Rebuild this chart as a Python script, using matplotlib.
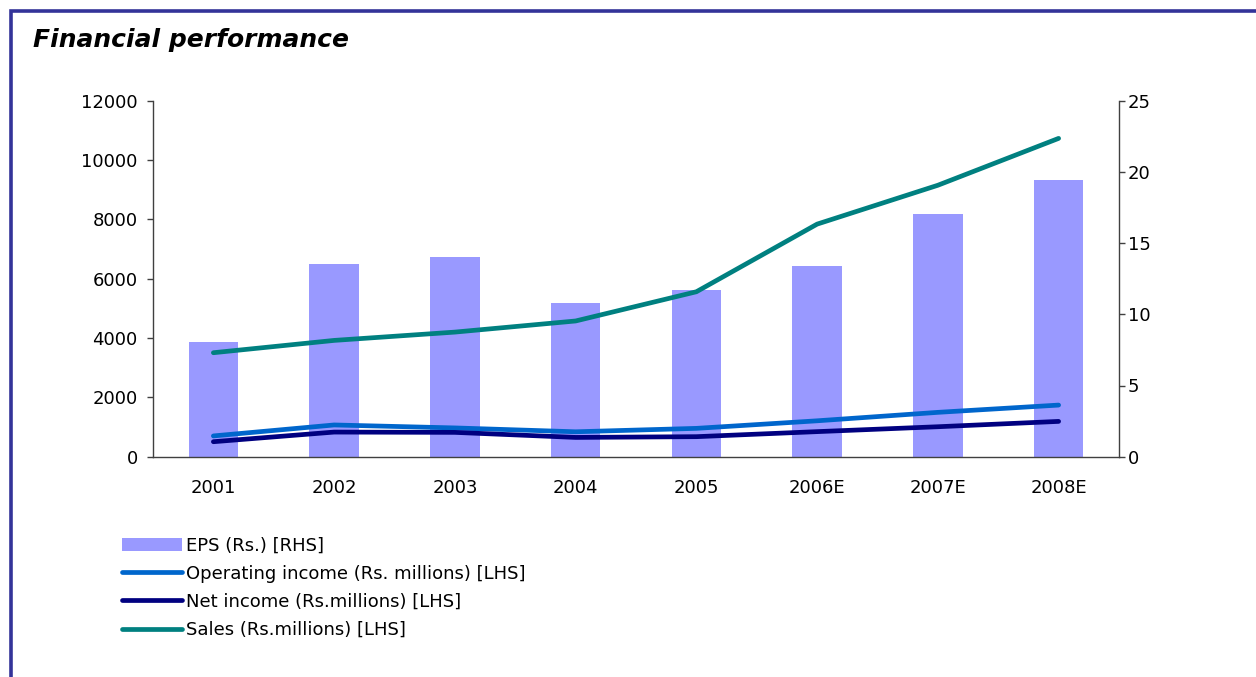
import matplotlib
matplotlib.use("Agg")
import matplotlib.pyplot as plt
from matplotlib.patches import Rectangle, Patch
from matplotlib.lines import Line2D
import numpy as np

plt.rcParams['font.family'] = ['DejaVu Sans']

years = ["2001", "2002", "2003", "2004", "2005", "2006E", "2007E", "2008E"]
eps = [8.05, 13.5, 14.0, 10.8, 11.7, 13.4, 17.05, 19.4]
operating_income = [700, 1070, 970, 840, 955, 1210, 1495, 1740]
net_income = [505, 830, 820, 650, 675, 845, 1010, 1190]
sales = [3505, 3920, 4200, 4575, 5560, 7840, 9150, 10730]

c_bar = "#9999FF"
c_op = "#0066CC"
c_net = "#000080"
c_sales = "#008080"
c_frame = "#333399"
c_spine = "#404040"

fig = plt.figure(figsize=(12.56, 6.77), dpi=100)
fig.patch.set_facecolor("white")

# frame
fig.patches.append(Rectangle((10.5/1256, -0.05), 1.1, 1 - 10.5/677 + 0.05,
                             transform=fig.transFigure, fill=False,
                             edgecolor=c_frame, linewidth=2.6, zorder=0))

fig.text(33/1256, 1 - 40/677, "Financial performance", fontsize=18,
         fontweight="bold", fontstyle="italic", va="center", ha="left")

ax = fig.add_axes([153/1256, 1 - 456.7/677, (1119-153)/1256, (456.7-100.7)/677])
ax2 = ax.twinx()

x = np.arange(len(years))
ax2.bar(x, eps, width=0.41, color=c_bar, zorder=1)
ax.plot(x, operating_income, color=c_op, lw=3.4, solid_capstyle="round")
ax.plot(x, net_income, color=c_net, lw=3.4, solid_capstyle="round")
ax.plot(x, sales, color=c_sales, lw=3.4, solid_capstyle="round")

ax.set_zorder(ax2.get_zorder() + 1)
ax.patch.set_visible(False)

ax.set_xlim(-0.5, len(years) - 0.5)
ax.set_ylim(0, 12000)
ax.set_yticks(np.arange(0, 12001, 2000))
ax2.set_ylim(0, 25)
ax2.set_yticks(np.arange(0, 26, 5))
ax.set_xticks(x)
ax.set_xticklabels(years)

for a in (ax, ax2):
    a.spines["top"].set_visible(False)
    for s in a.spines.values():
        s.set_color(c_spine)
        s.set_linewidth(1.0)
ax.spines["right"].set_visible(False)
ax2.spines["left"].set_visible(False)
ax2.spines["bottom"].set_visible(False)

ax.tick_params(axis="x", length=0, pad=16, labelsize=13)
ax.tick_params(axis="y", length=4, width=1, color=c_spine, pad=7, labelsize=13)
ax2.tick_params(axis="y", length=4, width=1, color=c_spine, pad=2.5, labelsize=13)

handles = [Patch(facecolor=c_bar, edgecolor="none"),
           Line2D([], [], color=c_op, lw=3.4, solid_capstyle="round"),
           Line2D([], [], color=c_net, lw=3.4, solid_capstyle="round"),
           Line2D([], [], color=c_sales, lw=3.4, solid_capstyle="round")]
labels = ["EPS (Rs.) [RHS]", "Operating income (Rs. millions) [LHS]",
          "Net income (Rs.millions) [LHS]", "Sales (Rs.millions) [LHS]"]
fig.legend(handles, labels, loc="upper left",
           bbox_to_anchor=(122/1256, 1 - 536.5/677), frameon=False,
           fontsize=13, handlelength=3.3, handletextpad=0.25,
           labelspacing=0.56, borderpad=0, borderaxespad=0)

fig.savefig("out.png", dpi=100)
